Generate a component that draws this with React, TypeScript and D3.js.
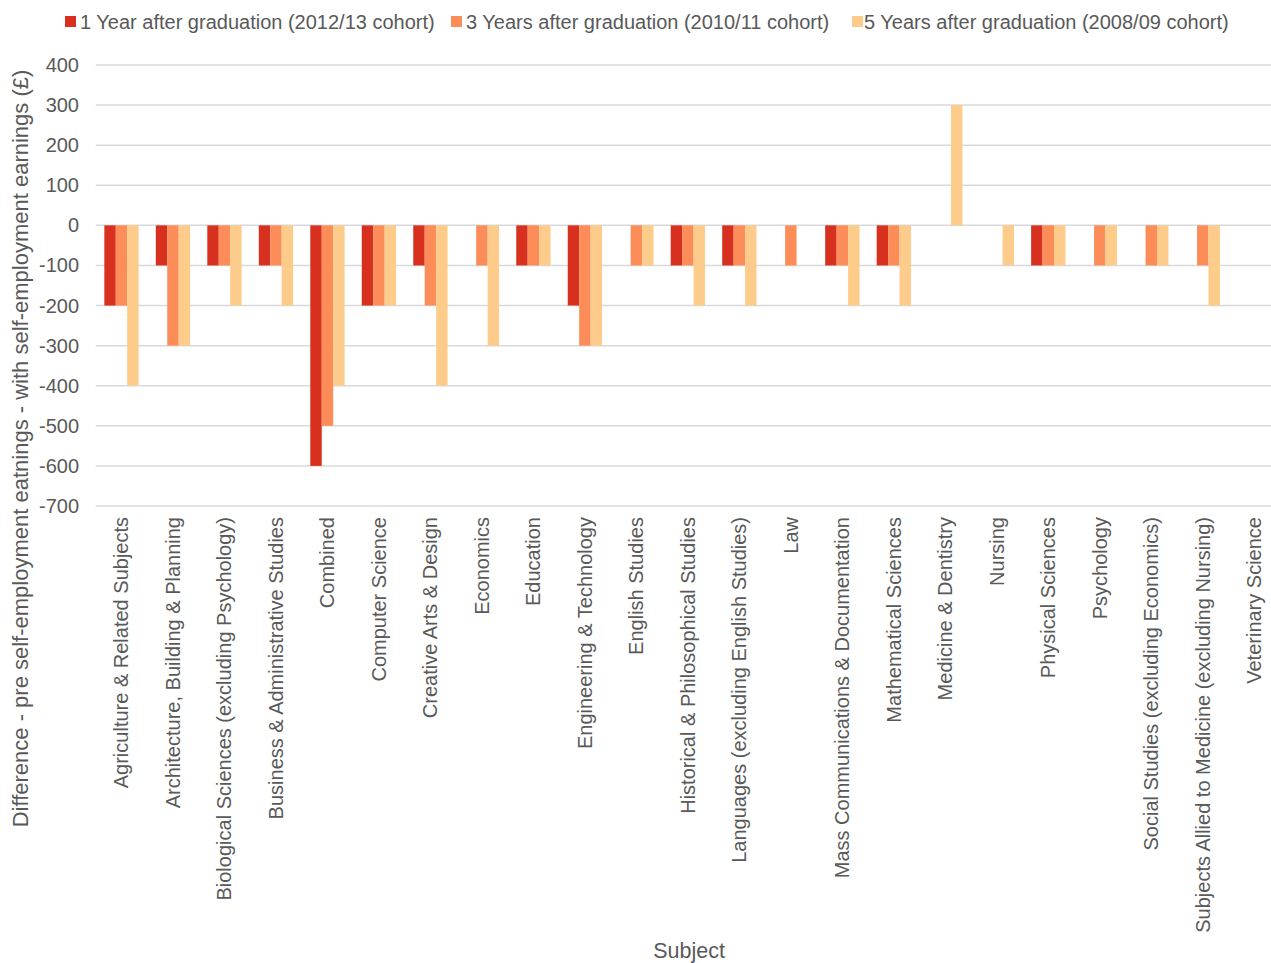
import React from "react";
import * as d3 from "d3";

const categories = [
  "Agriculture & Related Subjects",
  "Architecture, Building & Planning",
  "Biological Sciences (excluding Psychology)",
  "Business & Administrative Studies",
  "Combined",
  "Computer Science",
  "Creative Arts & Design",
  "Economics",
  "Education",
  "Engineering & Technology",
  "English Studies",
  "Historical & Philosophical Studies",
  "Languages (excluding English Studies)",
  "Law",
  "Mass Communications & Documentation",
  "Mathematical Sciences",
  "Medicine & Dentistry",
  "Nursing",
  "Physical Sciences",
  "Psychology",
  "Social Studies (excluding Economics)",
  "Subjects Allied to Medicine (excluding Nursing)",
  "Veterinary Science",
];

const seriesNames = [
  "1 Year after graduation (2012/13 cohort)",
  "3 Years after graduation (2010/11 cohort)",
  "5 Years after graduation (2008/09 cohort)",
];

const year1 = [-200, -100, -100, -100, -600, -200, -100, 0, -100, -200, 0, -100, -100, 0, -100, -100, 0, 0, -100, 0, 0, 0, 0];
const year3 = [-200, -300, -100, -100, -500, -200, -200, -100, -100, -300, -100, -100, -100, -100, -100, -100, 0, 0, -100, -100, -100, -100, 0];
const year5 = [-400, -300, -200, -200, -400, -200, -400, -300, -100, -300, -100, -200, -200, 0, -200, -200, 300, -100, -100, -100, -100, -200, 0];

const yTicks = [400, 300, 200, 100, 0, -100, -200, -300, -400, -500, -600, -700];
const colors = ["#d7301f", "#fc8d59", "#fdcc8a"];

export default function App() {
  const W = 1271;
  const H = 963;
  const left = 95.75;
  const right = 1280;
  const top = 65;
  const bottom = 506;
  const font = "'Liberation Sans', Arial, sans-serif";
  const textColor = "#595959";

  const x = d3.scaleBand<string>().domain(categories).range([left, right]).paddingInner(0).paddingOuter(0);
  const bw = x.bandwidth();
  const barW = bw / (3 + 1.5);
  const groupOffset = (bw - 3 * barW) / 2;
  const y = d3.scaleLinear().domain([-700, 400]).range([bottom, top]);
  const series = [year1, year3, year5];

  const legendItems = [
    { sx: 65, tx: 80 },
    { sx: 451, tx: 466 },
    { sx: 852, tx: 864 },
  ];

  return (
    <svg width={W} height={H} style={{ position: "absolute", left: 0, top: 0, background: "#fff" }} fontFamily={font}>
      <rect x={0} y={0} width={W} height={H} fill="#fff" />
      {yTicks.map((t) => (
        <g key={t}>
          <line x1={left} x2={W} y1={y(t)} y2={y(t)} stroke="#d9d9d9" strokeWidth={1.5} />
          <text x={79} y={y(t)} textAnchor="end" dominantBaseline="central" fontSize={20} fill={textColor}>
            {t}
          </text>
        </g>
      ))}
      {series.map((vals, si) =>
        vals.map((v, i) => {
          if (v === 0) return null;
          const bx = (x(categories[i]) as number) + groupOffset + si * barW;
          const y0 = y(0);
          const y1 = y(v);
          return (
            <rect
              key={si + "-" + i}
              x={bx}
              y={Math.min(y0, y1)}
              width={barW}
              height={Math.abs(y1 - y0)}
              fill={colors[si]}
            />
          );
        })
      )}
      {categories.map((c) => {
        const cx = (x(c) as number) + bw / 2;
        return (
          <text
            key={c}
            transform={`translate(${cx},517) rotate(-90)`}
            textAnchor="end"
            dominantBaseline="central"
            fontSize={20}
            fill={textColor}
          >
            {c}
          </text>
        );
      })}
      <text
        transform={`translate(20,448.5) rotate(-90)`}
        textAnchor="middle"
        dominantBaseline="central"
        fontSize={22}
        fill={textColor}
      >
        Difference - pre self-employment  eatnings - with self-employment  earnings (£)
      </text>
      <text x={689} y={951} textAnchor="middle" dominantBaseline="central" fontSize={21.5} fill={textColor}>
        Subject
      </text>
      {seriesNames.map((n, i) => (
        <g key={n}>
          <rect x={legendItems[i].sx} y={16} width={11} height={11} fill={colors[i]} />
          <text x={legendItems[i].tx} y={22} dominantBaseline="central" fontSize={20} fill={textColor}>
            {n}
          </text>
        </g>
      ))}
    </svg>
  );
}
